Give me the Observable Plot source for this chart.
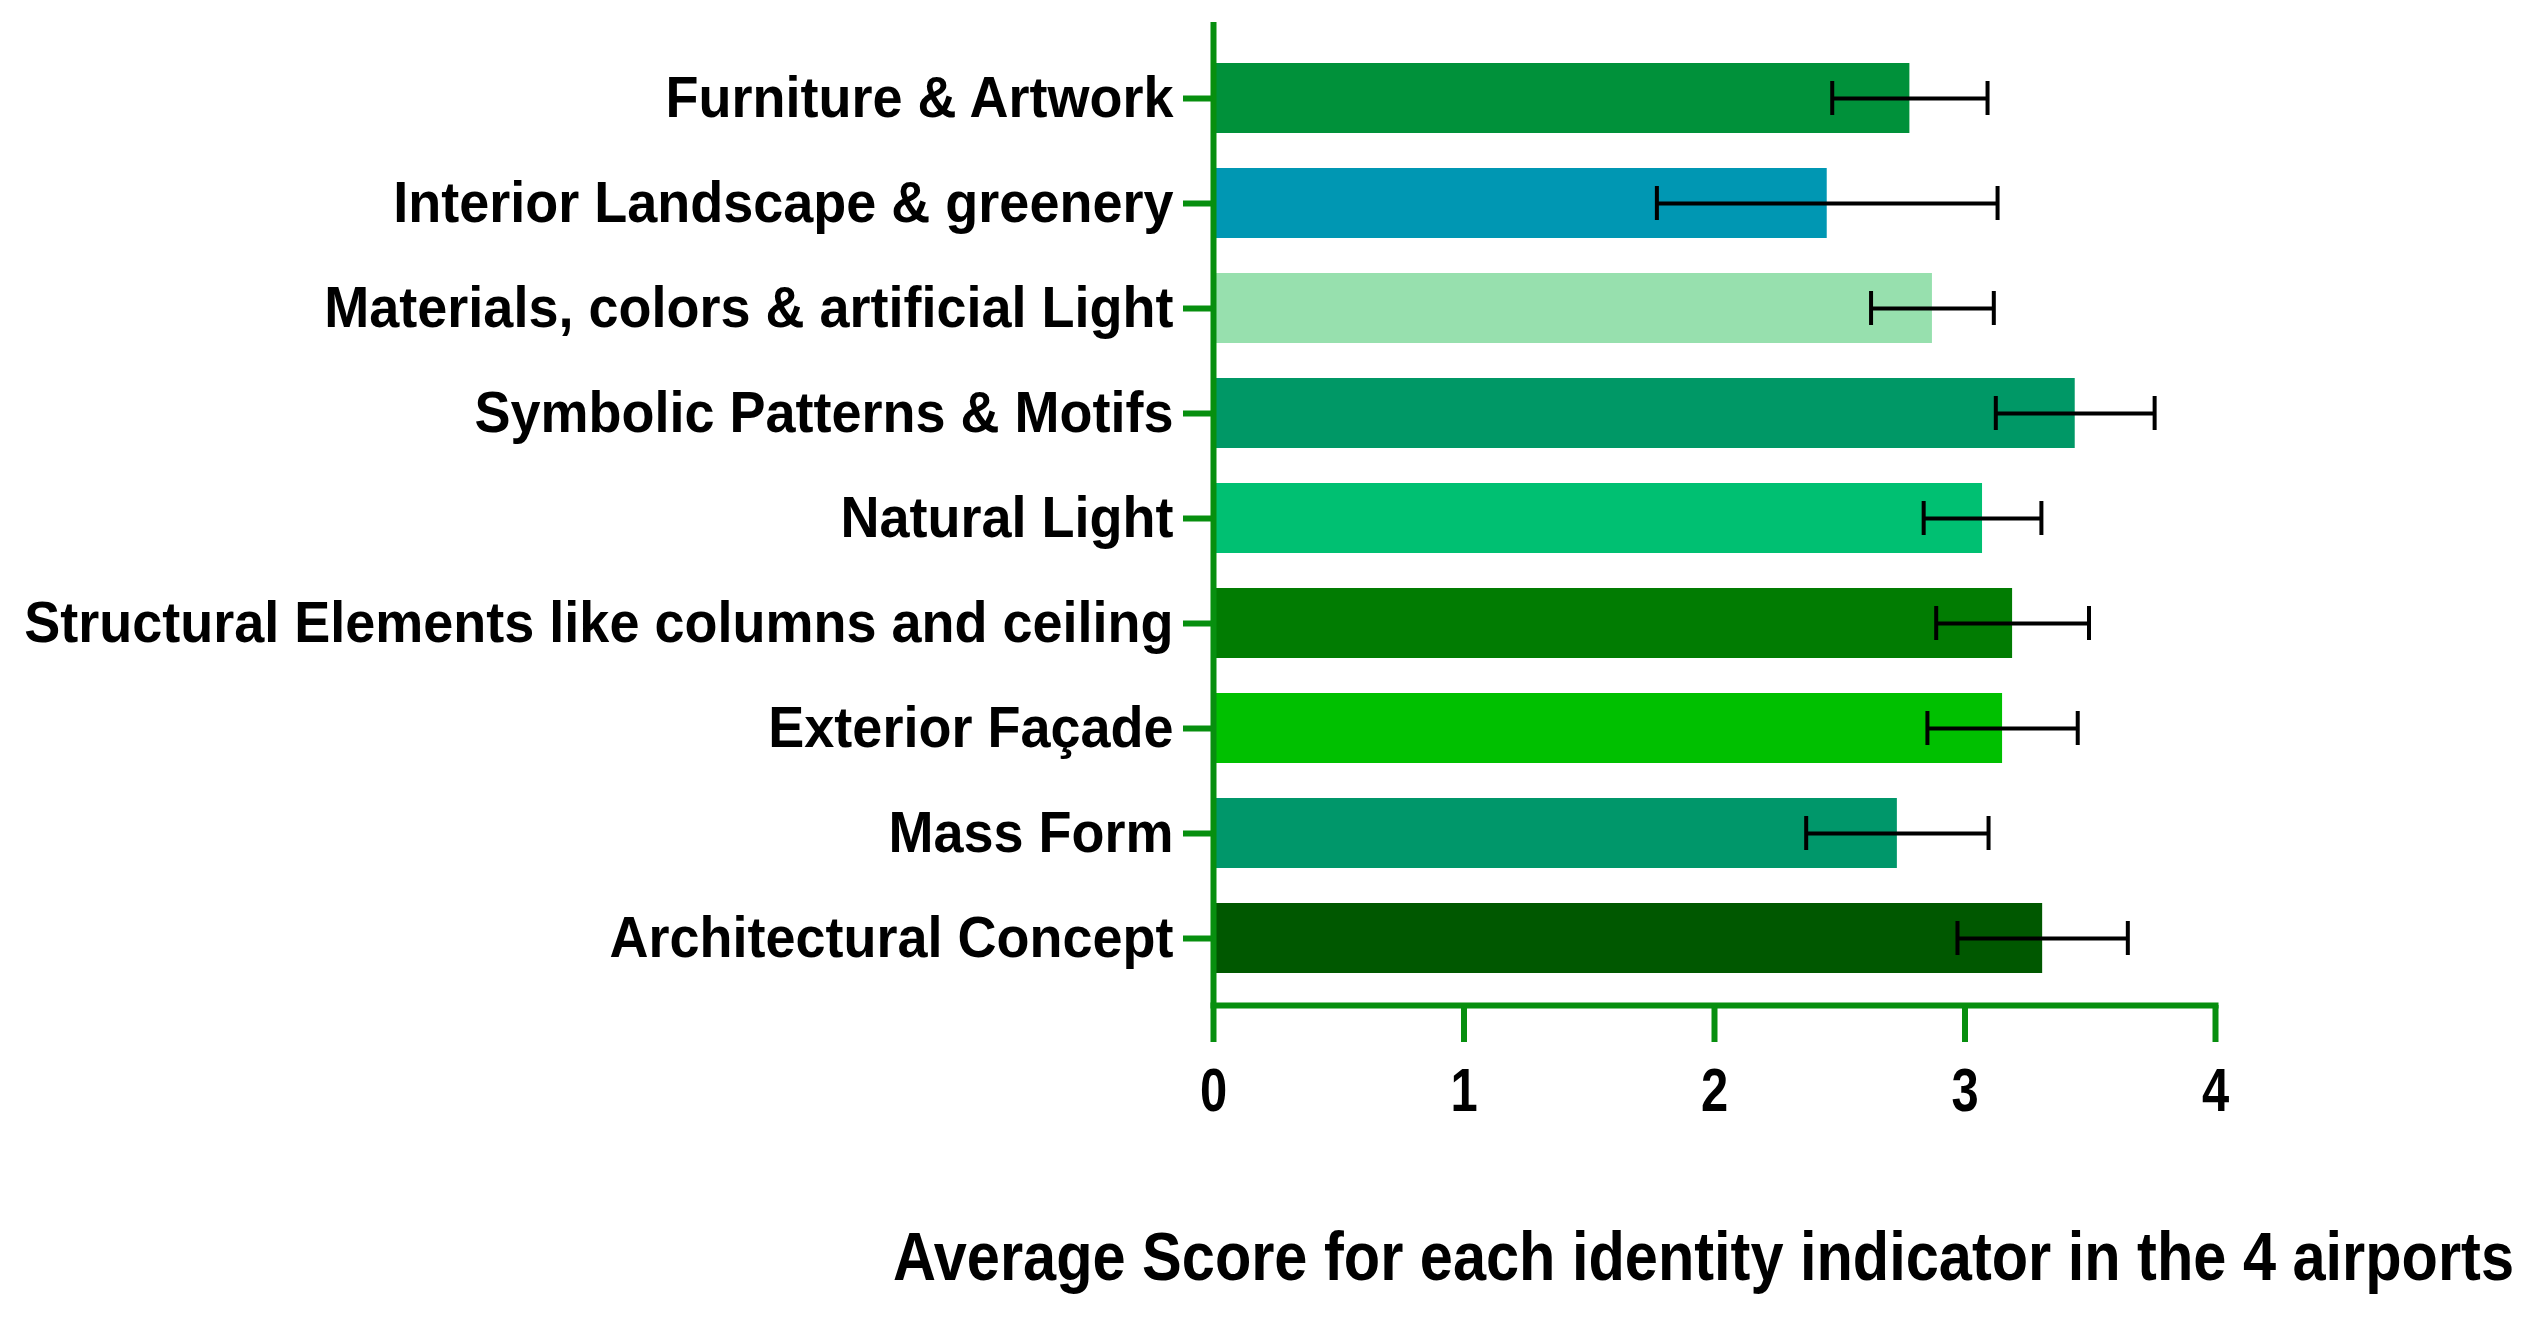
<!DOCTYPE html>
<html>
<head>
<meta charset="utf-8">
<script src="https://cdn.jsdelivr.net/npm/d3@7"></script>
<script src="https://cdn.jsdelivr.net/npm/@observablehq/plot@0.6"></script>
<style>
  html, body { margin: 0; padding: 0; background: #ffffff; }
  #wrap { position: relative; width: 2532px; height: 1319px; overflow: hidden; }
  #title {
    position: absolute; left: 893px; top: 1222px; white-space: nowrap;
    font-family: 'Liberation Sans', Arial, sans-serif;
    font-weight: bold; font-size: 68px; color: #000; line-height: 1;
    transform-origin: 0 0;
  }
</style>
</head>
<body>
<div id="wrap"><div id="chart"></div><div id="title">Average Score for each identity indicator in the 4 airports</div></div>
<script>
const categories = [
  "Furniture & Artwork",
  "Interior Landscape & greenery",
  "Materials, colors & artificial Light",
  "Symbolic Patterns & Motifs",
  "Natural Light",
  "Structural Elements like columns and ceiling",
  "Exterior Façade",
  "Mass Form",
  "Architectural Concept"
];
const means  = [2.78, 2.45, 2.87, 3.44, 3.07, 3.19, 3.15, 2.73, 3.31];
const errors = [0.31, 0.68, 0.245, 0.317, 0.235, 0.305, 0.30, 0.364, 0.34];
const colors = ["#00913a", "#0097b3", "#97e0ae", "#009866", "#00c072", "#017c02", "#00c000", "#00976a", "#005800"];
const xTicks = [0, 1, 2, 3, 4];

const axisGreen = "#078f0f";
const data = categories.map((c, i) => ({category: c, value: means[i], lo: means[i] - errors[i], hi: means[i] + errors[i], color: colors[i]}));

const chart = Plot.plot({
  width: 2532,
  height: 1140,
  marginLeft: 1213,
  marginRight: 317,
  marginTop: 27,
  marginBottom: 135,
  style: {fontFamily: "'Liberation Sans', Arial, sans-serif", fontWeight: "bold", background: "#ffffff", color: "#000"},
  x: {domain: [0, 4]},
  y: {domain: categories, paddingInner: 0.33, paddingOuter: 0.31, align: 0.536},
  color: {type: "identity"},
  marks: [
    Plot.barX(data, {x: "value", y: "category", fill: "color"}),
    Plot.ruleY(data, {y: "category", x1: "lo", x2: "hi", stroke: "#000", strokeWidth: 4}),
    Plot.tickX(data, {x: "lo", y: "category", stroke: "#000", strokeWidth: 4, insetTop: 18, insetBottom: 18}),
    Plot.tickX(data, {x: "hi", y: "category", stroke: "#000", strokeWidth: 4, insetTop: 18, insetBottom: 18}),
    Plot.ruleX([0], {stroke: axisGreen, strokeWidth: 6, insetTop: -5}),
    Plot.frame({anchor: "bottom", stroke: axisGreen, strokeWidth: 6}),
    Plot.axisY({tickSize: 30, tickPadding: 10, stroke: axisGreen, strokeWidth: 6, fill: "#000", fontSize: 57, fontWeight: "bold", label: null}),
    Plot.axisX(xTicks, {tickSize: 37, tickPadding: 25, stroke: axisGreen, strokeWidth: 6, fill: "#000", fontSize: 61, fontWeight: "bold", label: null, tickFormat: d => String(d)})
  ]
});
document.getElementById("chart").appendChild(chart);

// condense glyphs horizontally (reference uses a narrow bold face)
function condense(selector, k) {
  chart.querySelectorAll(selector).forEach(t => {
    const len = t.getComputedTextLength();
    t.setAttribute("textLength", (len * k).toFixed(1));
    t.setAttribute("lengthAdjust", "spacingAndGlyphs");
  });
}
condense('g[aria-label="y-axis tick label"] text', 54 / 57);
condense('g[aria-label="x-axis tick label"] text', 0.8);

const title = document.getElementById("title");
const w = title.getBoundingClientRect().width;
title.style.transform = `scaleX(${1621 / w})`;
</script>
</body>
</html>
